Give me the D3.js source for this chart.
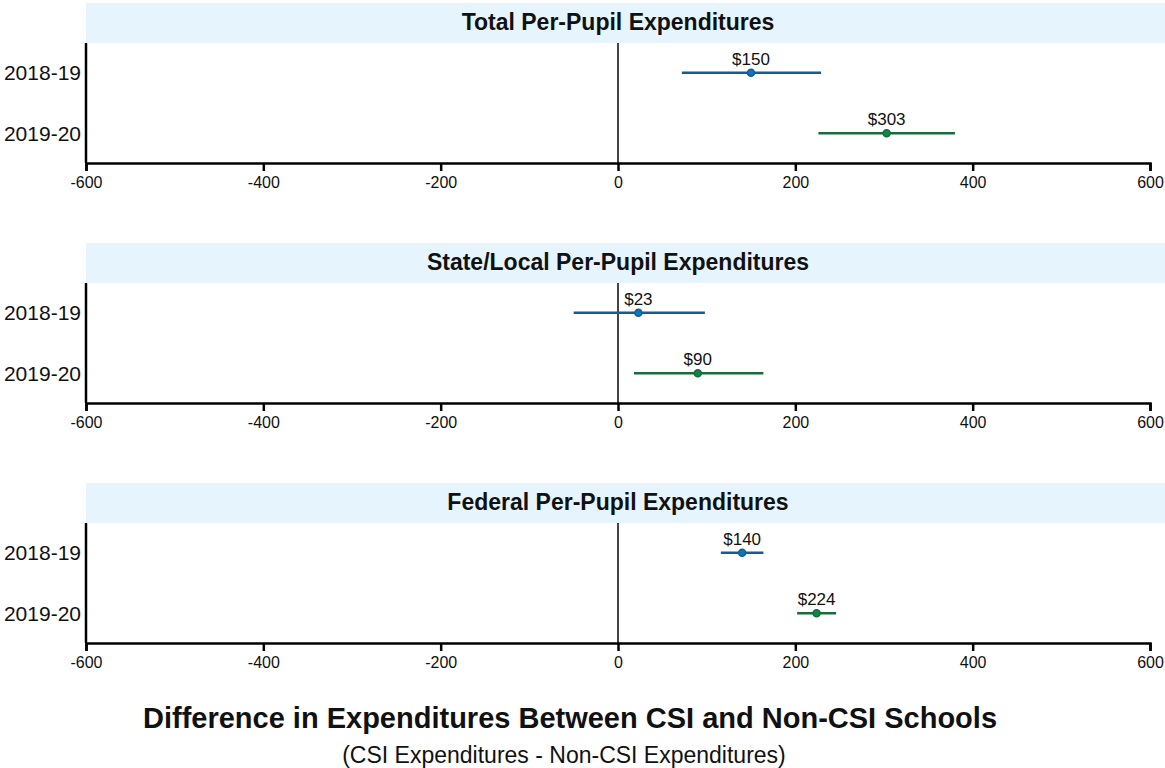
<!DOCTYPE html>
<html><head><meta charset="utf-8">
<script src="https://cdn.jsdelivr.net/npm/d3@7"></script>
<style>body{margin:0;background:#fff;font-family:"Liberation Sans",Arial,sans-serif;}</style>
</head><body><svg id="c" width="1165" height="768"></svg>
<script>
const panels = ["Total Per-Pupil Expenditures","State/Local Per-Pupil Expenditures","Federal Per-Pupil Expenditures"];
const years = ["2018-19","2019-20"];
const estimates = [[150,303],[23,90],[140,224]];
const lower = [[72,226],[-50,18],[116,202]];
const upper = [[229,380],[98,164],[164,246]];
const xTicks = [-600,-400,-200,0,200,400,600];
const lineColors = ["#1b5a8c","#1a6b3c"];
const dotColors = ["#0a78bf","#0b8a45"];

const svg = d3.select("#c");
const x = d3.scaleLinear().domain([-600,600]).range([86,1150]);
const font = '"Liberation Sans",Arial,sans-serif';

panels.forEach((title,p)=>{
  const top = 3 + p*240;
  const g = svg.append("g").attr("transform",`translate(0,${top})`);
  g.append("rect").attr("x",86).attr("y",0).attr("width",1079).attr("height",40).attr("fill","#e6f5fd");
  g.append("text").attr("x",618).attr("y",27).attr("text-anchor","middle")
    .attr("font-family",font).attr("font-weight","bold").attr("font-size",23).attr("fill","#111").text(title);
  const y = d3.scalePoint().domain(years).range([69.7,130.3]);
  g.append("line").attr("x1",x(0)).attr("x2",x(0)).attr("y1",40).attr("y2",160).attr("stroke","#444").attr("stroke-width",2);
  const xa = g.append("g").attr("transform","translate(0,160)")
    .call(d3.axisBottom(x).tickValues(xTicks).tickSize(8).tickPadding(6).tickFormat(d => String(d)));
  xa.select(".domain").attr("stroke","#000").attr("stroke-width",2.5);
  xa.selectAll(".tick line").attr("stroke","#000").attr("stroke-width",2.5);
  xa.selectAll("text").attr("font-family",font).attr("font-size",16).attr("fill","#111");
  const ya = g.append("g").attr("transform","translate(86,0)")
    .call(d3.axisLeft(y).tickSize(0).tickPadding(5));
  ya.select(".domain").attr("d","M0,40V160").attr("stroke","#000").attr("stroke-width",2.5);
  ya.selectAll("text").attr("font-family",font).attr("font-size",21).attr("fill","#111");
  years.forEach((yr,i)=>{
    const cy = y(yr);
    g.append("line").attr("x1",x(lower[p][i])).attr("x2",x(upper[p][i])).attr("y1",cy).attr("y2",cy)
      .attr("stroke",lineColors[i]).attr("stroke-width",2.5);
    g.append("circle").attr("cx",x(estimates[p][i])).attr("cy",cy).attr("r",3.5)
      .attr("fill",dotColors[i]).attr("stroke",lineColors[i]).attr("stroke-width",1.5);
    g.append("text").attr("x",x(estimates[p][i])).attr("y",cy-8).attr("text-anchor","middle")
      .attr("font-family",font).attr("font-size",17).attr("fill","#111").text("$"+estimates[p][i]);
  });
});
svg.append("text").attr("x",570).attr("y",728).attr("text-anchor","middle").attr("font-family",font)
  .attr("font-weight","bold").attr("font-size",29).attr("fill","#111").text("Difference in Expenditures Between CSI and Non-CSI Schools");
svg.append("text").attr("x",564).attr("y",763).attr("text-anchor","middle").attr("font-family",font)
  .attr("font-size",23).attr("fill","#111").text("(CSI Expenditures - Non-CSI Expenditures)");
</script></body></html>
